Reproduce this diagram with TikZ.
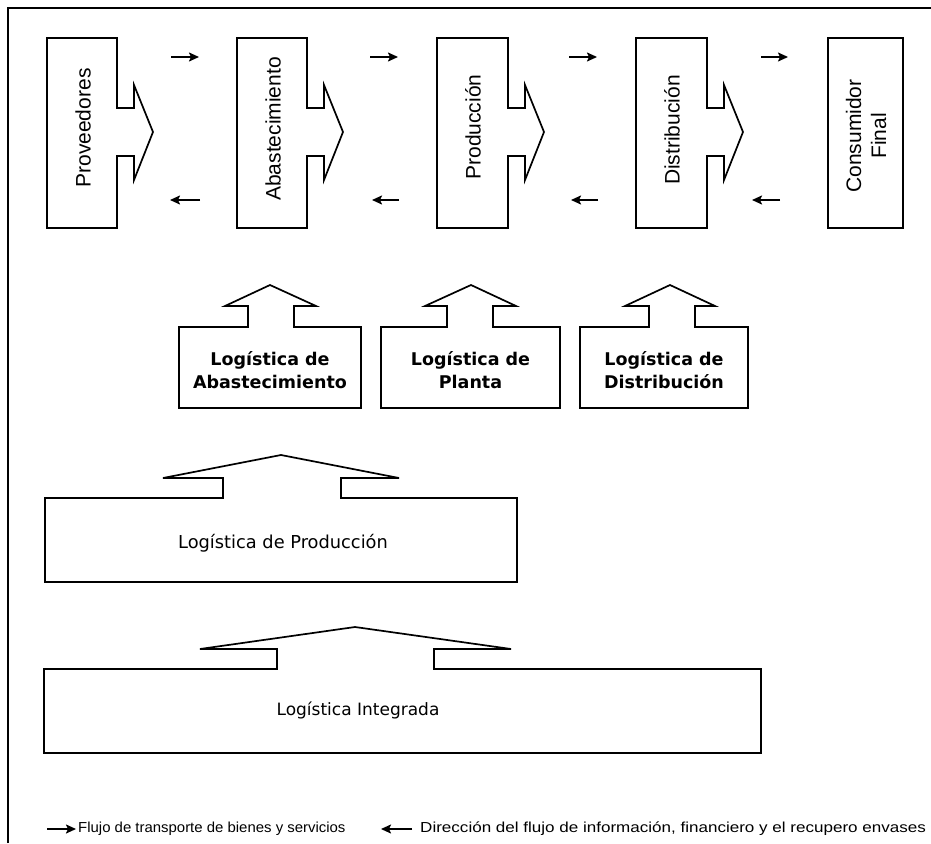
\documentclass[tikz,border=0pt]{standalone}
\usepackage{fontspec}
\setmainfont{Liberation Sans}
\newfontfamily\dvs{DejaVu Sans}
\usetikzlibrary{arrows.meta}
\begin{document}
\begin{tikzpicture}[x=1pt,y=-1pt,
  shapeline/.style={draw=black,line width=1.7pt,line join=miter,fill=white},
  stagetext/.style={rotate=90,font=\fontsize{21}{25}\selectfont,align=center,inner sep=0pt},
  logtext/.style={font=\dvs\bfseries\fontsize{17.5}{22.5}\selectfont,align=center,inner sep=0pt},
  widetext/.style={font=\dvs\fontsize{17.8}{21}\selectfont,inner sep=0pt},
  flowarrow/.style={line width=1.8pt,-{Stealth[length=10pt,width=9pt,inset=2pt]}},
  legendtext/.style={font=\fontsize{14.5}{16}\selectfont,anchor=west,inner sep=0pt}]
\useasboundingbox (0,0) rectangle (931,843);
% outer frame (top and left edges)
\draw[line width=1.6pt] (8,843) -- (8,8) -- (931,8);

% ---- supply chain stages with forward arrow heads ----
\newcommand{\stagebox}[2]{%
  \draw[shapeline] (#1,38) -- (#2,38) -- (#2,108) -- ({#2+17},108) -- ({#2+17},85)
    -- ({#2+36},132) -- ({#2+17},180) -- ({#2+17},156) -- (#2,156) -- (#2,228)
    -- (#1,228) -- cycle;}
\stagebox{47}{117}
\stagebox{237}{307}
\stagebox{437}{508}
\stagebox{636}{707}
\draw[shapeline] (828,38) rectangle (903,228);

\node[stagetext] (prov) at (83,128) {Proveedores};
\node[stagetext] (abas) at (273,129) {Abastecimiento};
\node[stagetext] (prod) at (473,127) {Producción};
\node[stagetext] (dist) at (672,130) {Distribución};
\node[stagetext] (cons) at (866,136) {Consumidor\\Final};

% ---- small flow arrows between stages ----
\foreach \a/\b [count=\i] in {171/199,370/398,569/597,761/788}{
  \coordinate (f\i a) at (\a,57);
  \coordinate (f\i b) at (\b,57);
  \draw[flowarrow] (f\i a) -- (f\i b);
}
\foreach \a/\b [count=\i] in {200/170,399/372,598/571,780/752}{
  \coordinate (r\i a) at (\a,200);
  \coordinate (r\i b) at (\b,200);
  \draw[flowarrow] (r\i a) -- (r\i b);
}

% ---- partial logistics blocks ----
\draw[shapeline] (179,327) -- (248,327) -- (248,306) -- (225,306) -- (270,285) -- (316,306)
  -- (294,306) -- (294,327) -- (361,327) -- (361,408) -- (179,408) -- cycle;
\draw[shapeline] (381,327) -- (447,327) -- (447,306) -- (425,306) -- (471,285) -- (516,306)
  -- (493,306) -- (493,327) -- (560,327) -- (560,408) -- (381,408) -- cycle;
\draw[shapeline] (580,327) -- (649,327) -- (649,306) -- (625,306) -- (670,285) -- (715,306)
  -- (695,306) -- (695,327) -- (748,327) -- (748,408) -- (580,408) -- cycle;
\node[logtext] (labas) at (270,370) {Logística de\\Abastecimiento};
\node[logtext] (lplan) at (470.5,370) {Logística de\\Planta};
\node[logtext] (ldist) at (664,370) {Logística de\\Distribución};

% ---- production logistics ----
\draw[shapeline] (45,498) -- (223,498) -- (223,478) -- (163,478) -- (281,455) -- (399,478)
  -- (341,478) -- (341,498) -- (517,498) -- (517,582) -- (45,582) -- cycle;
\node[widetext] (lprod) at (283,543) {Logística de Producción};

% ---- integrated logistics ----
\draw[shapeline] (44,669) -- (277,669) -- (277,649) -- (200,649) -- (355,627) -- (511,649)
  -- (434,649) -- (434,669) -- (761,669) -- (761,753) -- (44,753) -- cycle;
\node[widetext,font=\dvs\fontsize{17}{21}\selectfont] (lint) at (358,710) {Logística Integrada};

% ---- legend ----
\coordinate (la) at (47,829);
\coordinate (lb) at (76,829);
\draw[flowarrow] (la) -- (lb);
\node[legendtext,xscale=1.03] (leg1) at (78,829) {Flujo de transporte de bienes y servicios};
\coordinate (lc) at (412,829);
\coordinate (ld) at (381,829);
\draw[flowarrow] (lc) -- (ld);
\node[legendtext,xscale=1.175] (leg2) at (420,829) {Dirección del flujo de información, financiero y el recupero envases};
\end{tikzpicture}
\end{document}
